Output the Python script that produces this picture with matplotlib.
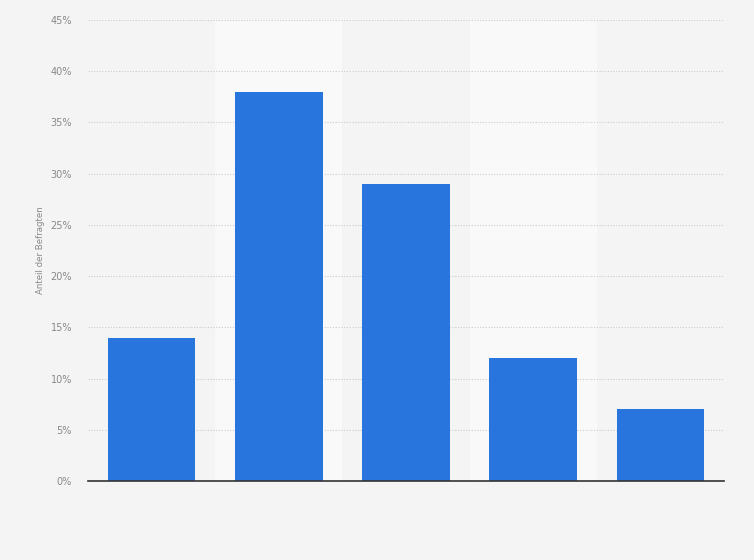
import matplotlib
matplotlib.use("Agg")
import matplotlib.pyplot as plt
from matplotlib.ticker import FuncFormatter

# values (share of respondents, %)
categories = ["A", "B", "C", "D", "E"]
shares = [14, 38, 29, 12, 7]
yticks = [0, 5, 10, 15, 20, 25, 30, 35, 40, 45]

bg = "#f4f4f4"
band = "#f9f9f9"
bar_color = "#2876dd"

fig = plt.figure(figsize=(7.54, 5.6), dpi=100, facecolor=bg)
ax = fig.add_axes([88 / 754, 79 / 560, 636 / 754, 461 / 560])
ax.set_facecolor(bg)

x = list(range(len(categories)))
for i in x:
    if i % 2 == 1:
        ax.axvspan(i - 0.5, i + 0.5, color=band, zorder=0, lw=0)

ax.bar(x, shares, width=0.69, color=bar_color, zorder=3)

ax.set_xlim(-0.5, len(categories) - 0.5)
ax.set_ylim(0, 45)
ax.set_yticks(yticks)
ax.yaxis.set_major_formatter(FuncFormatter(lambda v, p: f"{v:.0f}%"))
ax.set_xticks([])
ax.grid(axis="y", color="#cccccc", linestyle=(0, (1, 1.5)), linewidth=0.8, zorder=1)

for s in ["top", "right", "left"]:
    ax.spines[s].set_visible(False)
ax.spines["bottom"].set_color("#333333")
ax.spines["bottom"].set_linewidth(1.2)
ax.spines["bottom"].set_zorder(4)

ax.tick_params(axis="y", length=0, pad=11.5, labelsize=7, labelcolor="#888888")
ax.set_ylabel("Anteil der Befragten", fontsize=6.2, color="#888888")
ax.yaxis.set_label_coords(-43 / 636, 0.5)

fig.savefig("out.png", dpi=100, facecolor=bg)
